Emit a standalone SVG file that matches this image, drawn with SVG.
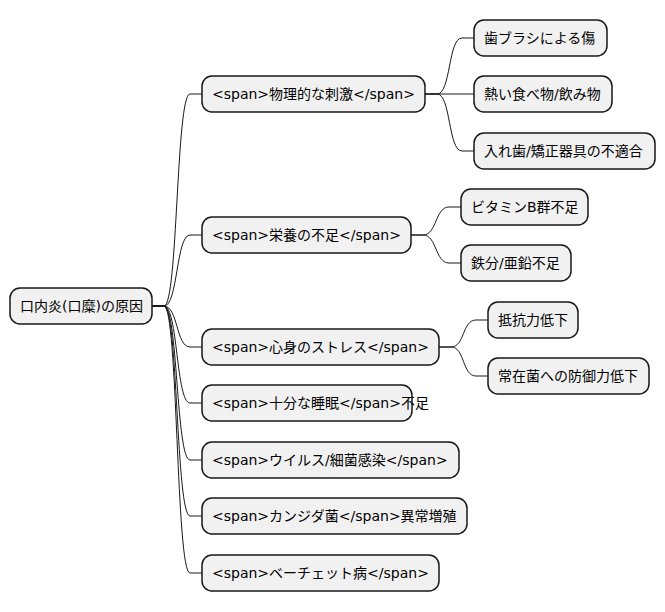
<svg xmlns="http://www.w3.org/2000/svg" width="665" height="612" viewBox="0 0 665 612">
<style>
.n rect{fill:#f1f1f1;stroke:#181818;stroke-width:1.5}
.n text{font-family:"DejaVu Sans","Noto Sans CJK JP",sans-serif;font-size:14px;fill:#000}
#edges path{fill:none;stroke:#181818;stroke-width:1}
</style>
<rect width="665" height="612" fill="#fff"/>
<g id="edges">
<path d="M152,306 L164,306 C178,306 176,94 190,94 L202,94"/>
<path d="M152,306 L164,306 C178,306 176,235 190,235 L202,235"/>
<path d="M152,306 L164,306 C178,306 176,347 190,347 L202,347"/>
<path d="M152,306 L164,306 C178,306 176,403 190,403 L202,403"/>
<path d="M152,306 L164,306 C178,306 176,460 190,460 L202,460"/>
<path d="M152,306 L164,306 C178,306 176,516 190,516 L202,516"/>
<path d="M152,306 L164,306 C178,306 176,573 190,573 L202,573"/>
<path d="M425,94 L437,94 C451,94 448,38 462,38 L474,38"/>
<path d="M425,94 L474,94"/>
<path d="M425,94 L437,94 C451,94 448,151 462,151 L474,151"/>
<path d="M411,235 L423,235 C437,235 435,207 449,207 L461,207"/>
<path d="M411,235 L423,235 C437,235 435,263 449,263 L461,263"/>
<path d="M439,347 L451,347 C465,347 462,320 476,320 L488,320"/>
<path d="M439,347 L451,347 C465,347 462,376 476,376 L488,376"/>
</g>
<g id="root" class="n"><rect x="10" y="288" width="142" height="36" rx="10"/><text x="20" y="311">口内炎(口糜)の原因</text></g>
<g id="n1" class="n"><rect x="202" y="76" width="223" height="36" rx="10"/><text x="212" y="99">&lt;span&gt;物理的な刺激&lt;/span&gt;</text></g>
<g id="n2" class="n"><rect x="202" y="217" width="209" height="36" rx="10"/><text x="212" y="240">&lt;span&gt;栄養の不足&lt;/span&gt;</text></g>
<g id="n3" class="n"><rect x="202" y="329" width="237" height="36" rx="10"/><text x="212" y="352">&lt;span&gt;心身のストレス&lt;/span&gt;</text></g>
<g id="n4" class="n"><rect x="202" y="385" width="210" height="36" rx="10"/><text x="212" y="408">&lt;span&gt;十分な睡眠&lt;/span&gt;不足</text></g>
<g id="n5" class="n"><rect x="202" y="442" width="257" height="36" rx="10"/><text x="212" y="465">&lt;span&gt;ウイルス/細菌感染&lt;/span&gt;</text></g>
<g id="n6" class="n"><rect x="202" y="498" width="265" height="36" rx="10"/><text x="212" y="521">&lt;span&gt;カンジダ菌&lt;/span&gt;異常増殖</text></g>
<g id="n7" class="n"><rect x="202" y="555" width="237" height="36" rx="10"/><text x="212" y="578">&lt;span&gt;ベーチェット病&lt;/span&gt;</text></g>
<g id="n1a" class="n"><rect x="474" y="20" width="133" height="36" rx="10"/><text x="484" y="43">歯ブラシによる傷</text></g>
<g id="n1b" class="n"><rect x="474" y="76" width="138" height="36" rx="10"/><text x="484" y="99">熱い食べ物/飲み物</text></g>
<g id="n1c" class="n"><rect x="474" y="133" width="181" height="36" rx="10"/><text x="484" y="156">入れ歯/矯正器具の不適合</text></g>
<g id="n2a" class="n"><rect x="461" y="189" width="127" height="36" rx="10"/><text x="471" y="212">ビタミンB群不足</text></g>
<g id="n2b" class="n"><rect x="461" y="245" width="110" height="36" rx="10"/><text x="471" y="268">鉄分/亜鉛不足</text></g>
<g id="n3a" class="n"><rect x="488" y="302" width="90" height="36" rx="10"/><text x="498" y="325">抵抗力低下</text></g>
<g id="n3b" class="n"><rect x="488" y="358" width="161" height="36" rx="10"/><text x="498" y="381">常在菌への防御力低下</text></g>
</svg>
